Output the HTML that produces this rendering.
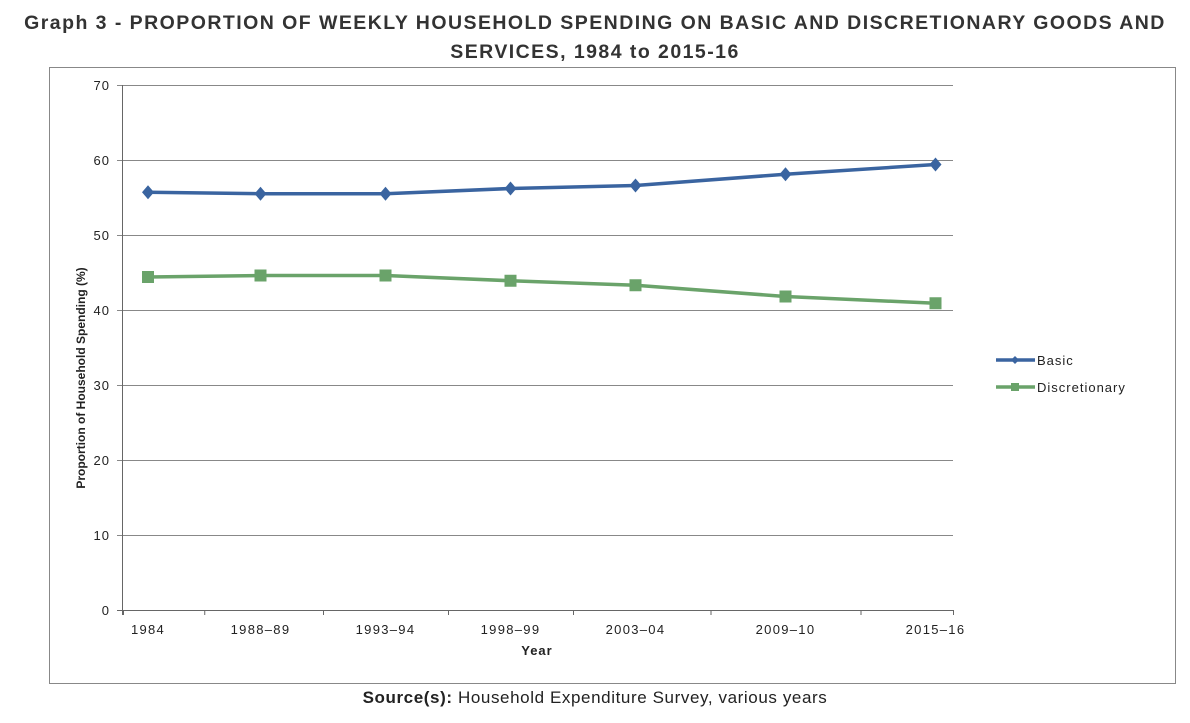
<!DOCTYPE html>
<html><head><meta charset="utf-8"><style>
body{margin:0;width:1190px;height:723px;background:#fff;font-family:"Liberation Sans",Arial,sans-serif;overflow:hidden}
.t{position:absolute;left:0;width:1190px;text-align:center;font-weight:bold;font-size:19.5px;letter-spacing:1.45px;color:#333}
</style></head><body>
<div class="t" style="top:9px;line-height:29px">Graph 3 - PROPORTION OF WEEKLY HOUSEHOLD SPENDING ON BASIC AND DISCRETIONARY GOODS AND<br>SERVICES, 1984 to 2015-16</div>
<svg id="c" width="1190" height="723" style="position:absolute;left:0;top:0">
<rect x="49.5" y="67.5" width="1126" height="616" fill="none" stroke="#888"/>
</svg>
<div style="position:absolute;top:688px;left:0;width:1190px;text-align:center;font-size:17px;letter-spacing:0.6px;color:#222"><b>Source(s):</b> Household Expenditure Survey, various years</div>
<script>
const categories=["1984","1988–89","1993–94","1998–99","2003–04","2009–10","2015–16"];
const catYears=[1984,1988.5,1993.5,1998.5,2003.5,2009.5,2015.5];
const basic=[55.7,55.5,55.5,56.2,56.6,58.1,59.4];
const discretionary=[44.4,44.6,44.6,43.9,43.3,41.8,40.9];
const yTicks=[0,10,20,30,40,50,60,70];
const svg=document.getElementById('c');const NS='http://www.w3.org/2000/svg';
const x=v=>148+(v-1984)*25;const y=v=>610-v*7.5;
function mk(t,a,p){const e=document.createElementNS(NS,t);for(const k in a)e.setAttribute(k,a[k]);(p||svg).appendChild(e);return e;}
yTicks.forEach(t=>{
 const l=mk('line',{x1:117,x2:953,y1:y(t)+.5,y2:y(t)+.5,stroke:t?'#888':'#666'});
 
 
 const tx=mk('text',{x:110,y:y(t)+5,'text-anchor':'end','font-size':13,'letter-spacing':1,fill:'#222'});tx.textContent=t;
 
 
});
mk('line',{x1:122.5,x2:122.5,y1:85,y2:615,stroke:'#666'});
const bounds=[1983,1986.25,1991,1996,2001,2006.5,2012.5,2016.2];
bounds.forEach(b=>mk('line',{x1:x(b)+.5,x2:x(b)+.5,y1:610,y2:615,stroke:'#666'}));
categories.forEach((c,i)=>{const t=mk('text',{x:x(catYears[i]),y:634,'text-anchor':'middle','font-size':13,'letter-spacing':1.3,fill:'#222'});t.textContent=c;
 
 });
let t=mk('text',{x:537,y:655,'text-anchor':'middle','font-size':13,'letter-spacing':1,'font-weight':'bold',fill:'#222'});t.textContent='Year';


t=mk('text',{x:0,y:0,'text-anchor':'middle','font-size':12,'font-weight':'bold',fill:'#222',transform:'translate(85,378) rotate(-90)'});t.textContent='Proportion of Household Spending (%)';


function series(vals,col,shape,name){
 const g=mk('g',{});
 
 
 mk('polyline',{points:vals.map((v,i)=>x(catYears[i])+','+y(v)).join(' '),fill:'none',stroke:col,'stroke-width':3.5},g);
 vals.forEach((v,i)=>{const cx=x(catYears[i]),cy=y(v);let m;
  if(shape==='d')m=mk('polygon',{points:`${cx},${cy-7} ${cx+6},${cy} ${cx},${cy+7} ${cx-6},${cy}`,fill:col},g);
  else m=mk('rect',{x:cx-6,y:cy-6,width:12,height:12,fill:col},g);
  
  });
}
series(basic,'#3a64a0','d','basic');
series(discretionary,'#6aa36a','s','discretionary');
function legend(yy,col,shape,label,name){
 const g=mk('g',{});
 
 
 mk('line',{x1:996,x2:1035,y1:yy,y2:yy,stroke:col,'stroke-width':3.5},g);
 if(shape==='d')mk('polygon',{points:`1015,${yy-4} 1019,${yy} 1015,${yy+4} 1011,${yy}`,fill:col},g);
 else mk('rect',{x:1011,y:yy-4,width:8,height:8,fill:col},g);
 const tt=mk('text',{x:1037,y:yy+5,'font-size':13,'letter-spacing':1,fill:'#222'},g);tt.textContent=label;
}
legend(360,'#3a64a0','d','Basic','basic');
legend(387,'#6aa36a','s','Discretionary','discretionary');
</script>
</body></html>
